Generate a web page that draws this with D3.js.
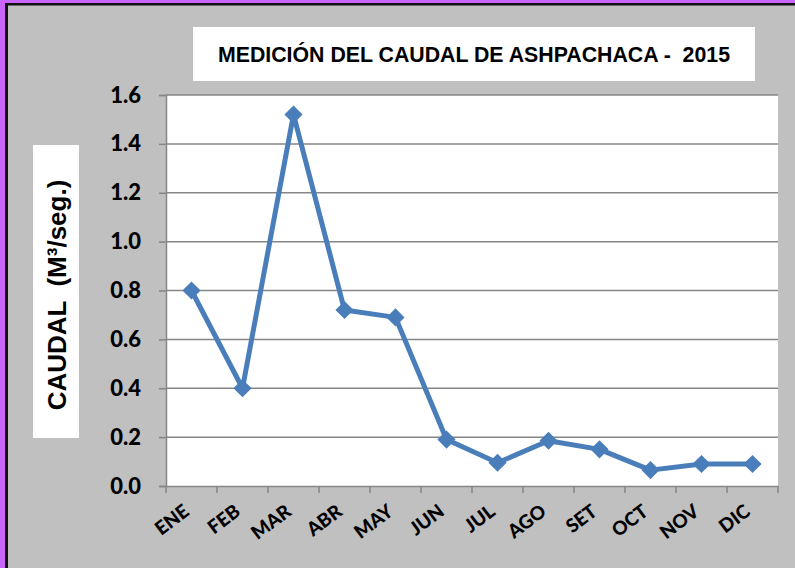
<!DOCTYPE html>
<html>
<head>
<meta charset="utf-8">
<script src="https://cdn.jsdelivr.net/npm/d3@7"></script>
<style>
  body { margin: 0; padding: 0; background: #c0c0c0; overflow: hidden; }
  svg { display: block; }
</style>
</head>
<body>
<svg id="chart" width="795" height="568"></svg>
<script>
// datos
var meses = ["ENE", "FEB", "MAR", "ABR", "MAY", "JUN", "JUL", "AGO", "SET", "OCT", "NOV", "DIC"];
var caudal = [0.80, 0.40, 1.52, 0.72, 0.69, 0.19, 0.095, 0.185, 0.15, 0.065, 0.09, 0.09];
var yTicks = [0, 0.2, 0.4, 0.6, 0.8, 1.0, 1.2, 1.4, 1.6];

var titulo = "MEDICIÓN DEL CAUDAL DE ASHPACHACA -  2015";
var ejeY = "CAUDAL  (M³/seg.)";

var svg = d3.select("#chart"),
    width = 795,
    height = 568;

var plot = {left: 166, top: 95, right: 778, bottom: 486};
var azul = "#4a7ebb";
var gris = "#868686";

// fondo y bordes
svg.append("rect").attr("width", width).attr("height", height).attr("fill", "#c0c0c0");
svg.append("rect").attr("x", 0).attr("y", 0).attr("width", width).attr("height", 3).attr("fill", "#c866ff");
svg.append("rect").attr("x", 0).attr("y", 0).attr("width", 5).attr("height", height).attr("fill", "#c866ff");
svg.append("rect").attr("x", 5).attr("y", 3).attr("width", width).attr("height", 2.5).attr("fill", "#111");
svg.append("rect").attr("x", 5).attr("y", 3).attr("width", 3).attr("height", height).attr("fill", "#111");

// escalas
var x = d3.scaleBand().domain(meses).range([plot.left, plot.right]);
var y = d3.scaleLinear().domain([0, 1.6]).range([plot.bottom, plot.top]);

// area del grafico
svg.append("rect")
  .attr("x", plot.left)
  .attr("y", plot.top)
  .attr("width", plot.right - plot.left)
  .attr("height", plot.bottom - plot.top)
  .attr("fill", "#fff");

// lineas de division
svg.append("g")
  .selectAll("line")
  .data(yTicks.filter(function(d){ return d > 0; }))
  .enter().append("line")
  .attr("x1", plot.left)
  .attr("x2", plot.right)
  .attr("y1", function(d){ return y(d); })
  .attr("y2", function(d){ return y(d); })
  .attr("stroke", gris)
  .attr("stroke-width", 1.5);

// eje Y
var yAxis = svg.append("g")
  .attr("transform", "translate(" + plot.left + ",0)")
  .call(d3.axisLeft(y).tickValues(yTicks).tickFormat(d3.format(".1f")).tickSize(7).tickPadding(18));

yAxis.select(".domain").attr("stroke", gris).attr("stroke-width", 1.5);
yAxis.selectAll(".tick line").attr("stroke", gris).attr("stroke-width", 1.5);
yAxis.selectAll(".tick text")
  .attr("font-family", "Lato, 'Open Sans', sans-serif")
  .attr("font-weight", "900")
  .attr("font-size", 22)
  .attr("fill", "#000");

// eje X
var xAxis = svg.append("g")
  .attr("transform", "translate(0," + plot.bottom + ")")
  .call(d3.axisBottom(x).tickSize(0).tickSizeOuter(0));

xAxis.select(".domain").attr("stroke", gris).attr("stroke-width", 1.5);
xAxis.selectAll(".tick text")
  .attr("font-family", "Lato, 'Open Sans', sans-serif")
  .attr("font-weight", "900")
  .attr("font-size", 19)
  .attr("fill", "#000")
  .attr("text-anchor", "end")
  .attr("dy", null)
  .attr("y", 0)
  .attr("transform", "translate(-1,28) rotate(-37)");

// marcas entre categorias
var bordes = meses.map(function(m){ return x(m); }).concat([plot.right]);
svg.append("g")
  .selectAll("line")
  .data(bordes)
  .enter().append("line")
  .attr("x1", function(d){ return d; })
  .attr("x2", function(d){ return d; })
  .attr("y1", plot.bottom)
  .attr("y2", plot.bottom + 7)
  .attr("stroke", gris)
  .attr("stroke-width", 1.5);

// serie
var linea = d3.line()
  .x(function(d, i){ return x(meses[i]) + x.bandwidth() / 2; })
  .y(function(d){ return y(d); });

svg.append("path")
  .datum(caudal)
  .attr("d", linea)
  .attr("fill", "none")
  .attr("stroke", azul)
  .attr("stroke-width", 5)
  .attr("stroke-linejoin", "round");

svg.append("g")
  .selectAll("path")
  .data(caudal)
  .enter().append("path")
  .attr("d", d3.symbol().type(d3.symbolDiamond2).size(210))
  .attr("transform", function(d, i){
      return "translate(" + (x(meses[i]) + x.bandwidth() / 2) + "," + y(d) + ")";
  })
  .attr("fill", azul);

// titulo
svg.append("rect")
  .attr("x", 193).attr("y", 27)
  .attr("width", 562).attr("height", 54)
  .attr("fill", "#fff");
svg.append("text")
  .attr("x", 474)
  .attr("y", 62)
  .attr("text-anchor", "middle")
  .attr("font-family", "Arial, 'Liberation Sans', sans-serif")
  .attr("font-weight", "bold")
  .attr("font-size", 21.3)
  .attr("fill", "#000")
  .attr("xml:space", "preserve")
  .style("white-space", "pre")
  .text(titulo);

// titulo eje Y
svg.append("rect")
  .attr("x", 33).attr("y", 145)
  .attr("width", 46).attr("height", 293)
  .attr("fill", "#fff");
svg.append("text")
  .attr("transform", "translate(66,295) rotate(-90)")
  .attr("text-anchor", "middle")
  .attr("font-family", "Arial, 'Liberation Sans', sans-serif")
  .attr("font-weight", "bold")
  .attr("font-size", 26)
  .attr("fill", "#000")
  .attr("xml:space", "preserve")
  .style("white-space", "pre")
  .text(ejeY);
</script>
</body>
</html>
